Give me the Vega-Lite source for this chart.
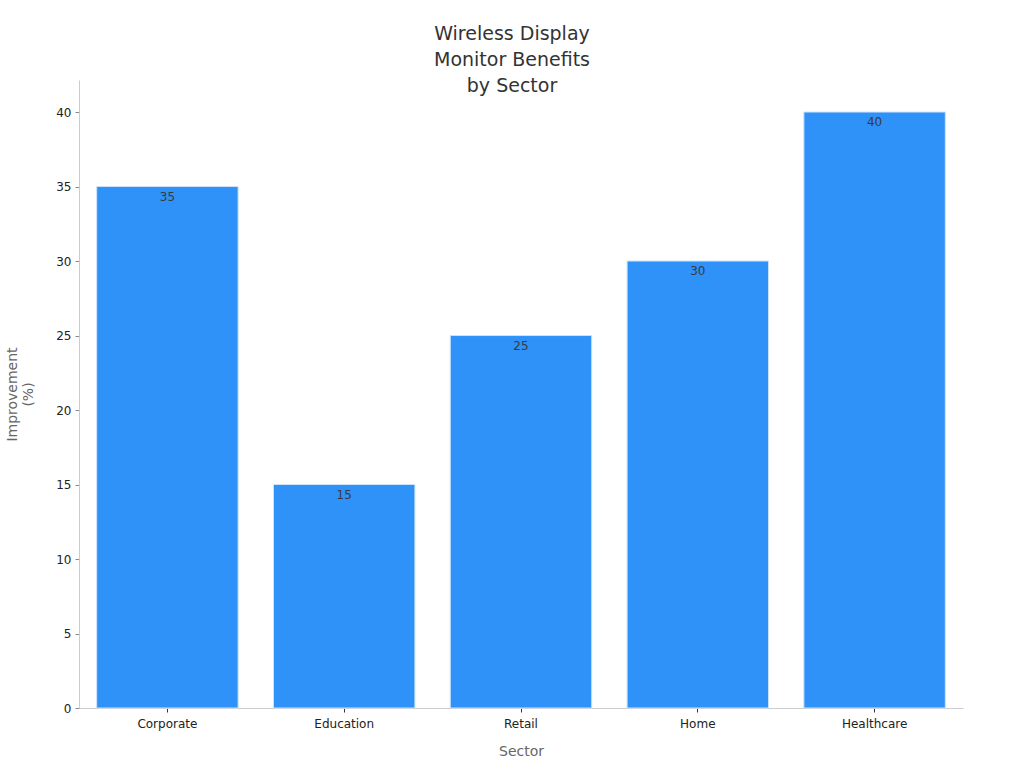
{
  "$schema": "https://vega.github.io/schema/vega-lite/v6.json",
  "width": 884,
  "height": 628,
  "autosize": {"type": "none"},
  "padding": {"left": 79, "top": 80, "right": 61, "bottom": 60},
  "background": "white",
  "title": {
    "text": ["Wireless Display", "Monitor Benefits", "by Sector"],
    "font": "DejaVu Sans",
    "fontSize": 19,
    "fontWeight": "normal",
    "color": "#333333",
    "lineHeight": 26,
    "anchor": "middle",
    "dx": -9,
    "offset": -16
  },
  "data": {
    "values": [
      {"Sector": "Corporate", "Improvement": 35},
      {"Sector": "Education", "Improvement": 15},
      {"Sector": "Retail", "Improvement": 25},
      {"Sector": "Home", "Improvement": 30},
      {"Sector": "Healthcare", "Improvement": 40}
    ]
  },
  "config": {
    "view": {"stroke": null},
    "font": "DejaVu Sans",
    "axis": {
      "labelFont": "DejaVu Sans",
      "titleFont": "DejaVu Sans",
      "labelFontSize": 12,
      "labelColor": "#222222",
      "titleFontSize": 14,
      "titleFontWeight": "normal",
      "titleColor": "#666666",
      "domainColor": "#cccccc",
      "grid": false
    }
  },
  "layer": [
    {
      "mark": {"type": "bar", "color": "#2F92F8", "stroke": "#cde2fb", "strokeWidth": 1},
      "encoding": {
        "x": {
          "field": "Sector",
          "type": "nominal",
          "sort": null,
          "scale": {"paddingInner": 0.2, "paddingOuter": 0.1},
          "axis": {"labelAngle": 0, "title": "Sector", "titlePadding": 15, "tickColor": "#333333", "tickSize": 4, "labelPadding": 6}
        },
        "y": {
          "field": "Improvement",
          "type": "quantitative",
          "scale": {"domain": [0, 42.15], "nice": false},
          "axis": {"values": [0, 5, 10, 15, 20, 25, 30, 35, 40], "title": ["Improvement", "(%)"], "tickColor": "#888888", "tickSize": 4, "labelPadding": 4, "titlePadding": 20}
        }
      }
    },
    {
      "mark": {"type": "text", "baseline": "top", "dy": 5, "fontSize": 12, "color": "#3a3a3a", "font": "DejaVu Sans"},
      "encoding": {
        "x": {"field": "Sector", "type": "nominal", "sort": null},
        "y": {"field": "Improvement", "type": "quantitative"},
        "text": {"field": "Improvement", "type": "quantitative"}
      }
    }
  ]
}
